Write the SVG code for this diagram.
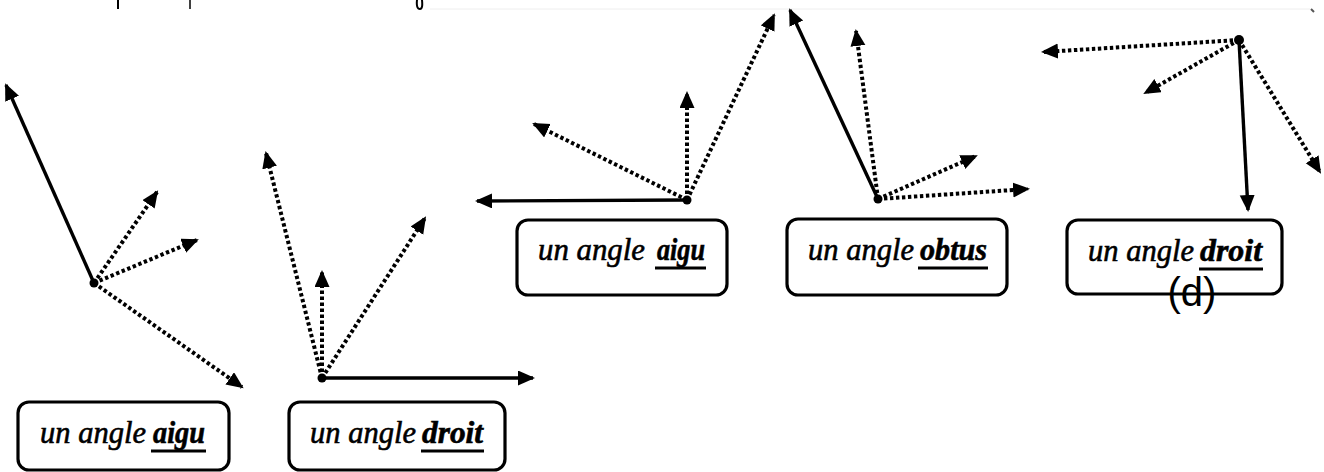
<svg xmlns="http://www.w3.org/2000/svg" width="1324" height="472" viewBox="0 0 1324 472">
<style>
.solid{stroke:#000;stroke-width:3.4;fill:none;marker-end:url(#ah)}
.dot{stroke:#000;stroke-width:4;stroke-dasharray:3.4 2.6;fill:none;marker-end:url(#ah)}
.box{fill:#fff;stroke:#000;stroke-width:3.2}
.t1{font-family:"Liberation Serif","DejaVu Serif",serif;font-style:italic;font-size:32px;fill:#000;stroke:#000;stroke-width:0.6}
.t2{font-family:"Liberation Serif","DejaVu Serif",serif;font-style:italic;font-weight:bold;font-size:32px;fill:#000;stroke:#000;stroke-width:0.6}
.ul{stroke:#000;stroke-width:3.2}
.v{fill:#000}
</style>
<defs>
<marker id="ah" markerUnits="userSpaceOnUse" markerWidth="18" markerHeight="16" refX="15" refY="7.5" orient="auto">
<path d="M0,0 L17,7.5 L0,15 z" fill="#000"/>
</marker>
</defs>
<rect width="1324" height="472" fill="#fff"/>
<g id="artifacts">
<line x1="430" y1="9" x2="1310" y2="9" stroke="#eeeeee" stroke-width="1"/>
<line x1="118" y1="0" x2="118" y2="9" stroke="#000" stroke-width="2"/>
<line x1="190" y1="0" x2="190" y2="9" stroke="#000" stroke-width="1.5"/>
<path d="M417,0 Q416,9 420,9 Q423,9 422,0" stroke="#000" stroke-width="2" fill="none"/>
<line x1="1311" y1="9" x2="1314" y2="12" stroke="#555" stroke-width="2"/>
</g>
<g id="connectors">
<line class="solid" x1="94" y1="283" x2="6" y2="85"/>
<line class="dot" x1="94" y1="283" x2="157" y2="192"/>
<line class="dot" x1="94" y1="283" x2="197" y2="240"/>
<line class="dot" x1="94" y1="283" x2="242" y2="387"/>
<line class="solid" x1="322" y1="378" x2="533" y2="378"/>
<line class="dot" x1="322" y1="378" x2="266" y2="153"/>
<line class="dot" x1="322" y1="378" x2="322" y2="272"/>
<line class="dot" x1="322" y1="378" x2="425" y2="218"/>
<line class="solid" x1="687" y1="200" x2="477" y2="201"/>
<line class="dot" x1="687" y1="200" x2="534" y2="124"/>
<line class="dot" x1="687" y1="200" x2="687" y2="93"/>
<line class="dot" x1="687" y1="200" x2="774" y2="15"/>
<line class="solid" x1="878" y1="199" x2="790" y2="10"/>
<line class="dot" x1="878" y1="199" x2="856" y2="31"/>
<line class="dot" x1="878" y1="199" x2="976" y2="156"/>
<line class="dot" x1="878" y1="199" x2="1028" y2="189"/>
<line class="dot" x1="1239" y1="40" x2="1043" y2="52"/>
<line class="dot" x1="1239" y1="40" x2="1145" y2="93"/>
<line class="solid" x1="1239" y1="40" x2="1248" y2="210"/>
<line class="dot" x1="1239" y1="40" x2="1320" y2="172"/>
<circle class="v" cx="94" cy="283" r="4.5"/>
<circle class="v" cx="322" cy="378" r="4.5"/>
<circle class="v" cx="687" cy="200" r="4.5"/>
<circle class="v" cx="878" cy="199" r="4.5"/>
<circle class="v" cx="1239" cy="40" r="5"/>
</g>
<g id="label1">
<rect class="box" x="18" y="402" width="211" height="68" rx="11"/>
<text class="t1" x="40" y="443" textLength="106" lengthAdjust="spacingAndGlyphs">un angle</text>
<text class="t2" x="153" y="443" textLength="52" lengthAdjust="spacingAndGlyphs">aigu</text>
<line class="ul" x1="151" y1="451" x2="206" y2="451"/>
</g>
<g id="label2">
<rect class="box" x="289" y="402" width="216" height="68" rx="11"/>
<text class="t1" x="310" y="443" textLength="106" lengthAdjust="spacingAndGlyphs">un angle</text>
<text class="t2" x="422" y="443" textLength="61" lengthAdjust="spacingAndGlyphs">droit</text>
<line class="ul" x1="421" y1="451" x2="484" y2="451"/>
</g>
<g id="label3">
<rect class="box" x="517" y="220" width="210" height="75" rx="11"/>
<text class="t1" x="538" y="260" textLength="107" lengthAdjust="spacingAndGlyphs">un angle</text>
<text class="t2" x="657" y="260" textLength="48" lengthAdjust="spacingAndGlyphs">aigu</text>
<line class="ul" x1="655" y1="268" x2="706" y2="268"/>
</g>
<g id="label4">
<rect class="box" x="787" y="219" width="220" height="76" rx="11"/>
<text class="t1" x="808" y="260" textLength="106" lengthAdjust="spacingAndGlyphs">un angle</text>
<text class="t2" x="920" y="260" textLength="67" lengthAdjust="spacingAndGlyphs">obtus</text>
<line class="ul" x1="918" y1="268" x2="988" y2="268"/>
</g>
<g id="label5">
<rect class="box" x="1067" y="220" width="215" height="74" rx="11"/>
<text class="t1" x="1088" y="261" textLength="106" lengthAdjust="spacingAndGlyphs">un angle</text>
<text class="t2" x="1200" y="261" textLength="62" lengthAdjust="spacingAndGlyphs">droit</text>
<line class="ul" x1="1199" y1="269" x2="1263" y2="269"/>
<text x="1192" y="306" text-anchor="middle" font-family="Liberation Sans, Arial, sans-serif" font-size="40" fill="#000">(d)</text>
</g>
</svg>
